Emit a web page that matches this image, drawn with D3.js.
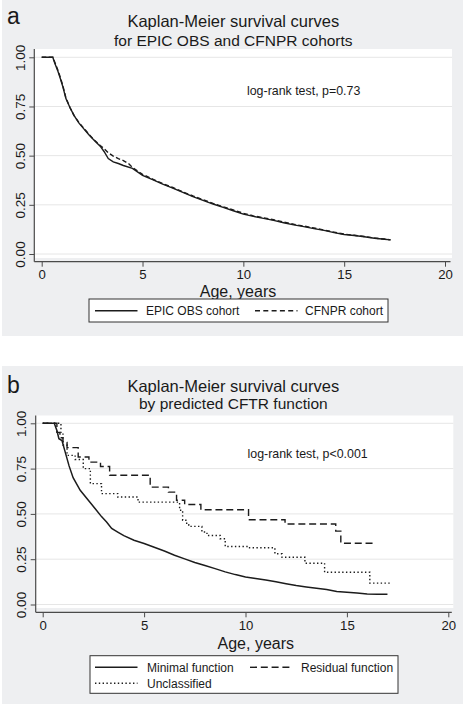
<!DOCTYPE html>
<html><head><meta charset="utf-8">
<script src="https://cdn.jsdelivr.net/npm/d3@7"></script>
<style>
html,body{margin:0;padding:0;background:#fff}
svg{display:block}
text{font-family:"Liberation Sans",Arial,Helvetica,sans-serif;fill:#1a1a1a}
</style>
</head><body>
<svg id="c" width="465" height="704"></svg>
<script>
// ---------- data ----------
const xTicks = [0, 5, 10, 15, 20];
const yTicks = [0, 0.25, 0.5, 0.75, 1];

// Panel a: [age (years), survival]
const epicObs = [[0,1],[0.55,1],[0.65,0.97],[0.8,0.93],[0.9,0.9],[1.05,0.85],[1.2,0.79],[1.4,0.745],[1.6,0.705],[1.85,0.665],[2.1,0.635],[2.35,0.605],[2.6,0.578],[2.9,0.548],[3.1,0.52],[3.3,0.485],[3.55,0.468],[3.8,0.46],[4.05,0.45],[4.5,0.435],[5.0,0.4],[5.5,0.378],[6.0,0.355],[6.5,0.335],[7.0,0.313],[7.5,0.292],[8.0,0.273],[8.5,0.254],[9.0,0.237],[9.5,0.22],[10.0,0.203],[10.5,0.191],[11.0,0.181],[11.5,0.171],[12.0,0.159],[12.5,0.148],[13.0,0.139],[13.5,0.129],[14.0,0.12],[14.5,0.109],[15.0,0.099],[15.5,0.094],[16.0,0.088],[16.5,0.08],[17.0,0.075],[17.3,0.072]];
const cfnprCohort = [[0,1],[0.55,1],[0.65,0.975],[0.8,0.935],[0.9,0.905],[1.05,0.855],[1.2,0.795],[1.4,0.745],[1.6,0.705],[1.85,0.668],[2.1,0.638],[2.35,0.608],[2.6,0.58],[2.9,0.552],[3.1,0.535],[3.3,0.515],[3.55,0.498],[3.8,0.485],[4.05,0.475],[4.3,0.46],[4.5,0.44],[5.0,0.405],[5.5,0.381],[6.0,0.358],[6.5,0.338],[7.0,0.316],[7.5,0.295],[8.0,0.276],[8.5,0.257],[9.0,0.24],[9.5,0.224],[10.0,0.207],[10.5,0.194],[11.0,0.184],[11.5,0.174],[12.0,0.162],[12.5,0.151],[13.0,0.142],[13.5,0.132],[14.0,0.122],[14.5,0.111],[15.0,0.101],[15.5,0.095],[16.0,0.089],[16.5,0.081],[17.0,0.076],[17.3,0.072]];

// Panel b
const minimalFn = [[0,1],[0.57,1],[0.7,0.96],[0.8,0.915],[0.95,0.905],[1.1,0.845],[1.3,0.765],[1.5,0.7],[1.85,0.63],[2.25,0.575],[2.65,0.52],[2.9,0.485],[3.15,0.455],[3.4,0.42],[3.7,0.4],[4.0,0.38],[4.5,0.355],[5.0,0.337],[5.5,0.316],[6.0,0.295],[6.5,0.272],[7.0,0.252],[7.5,0.232],[8.0,0.215],[8.5,0.198],[9.0,0.18],[9.5,0.165],[10.0,0.152],[10.5,0.143],[11.0,0.135],[11.5,0.125],[12.0,0.115],[12.5,0.105],[13.0,0.097],[13.5,0.09],[14.0,0.083],[14.5,0.072],[15.0,0.067],[15.5,0.063],[16.0,0.058],[16.5,0.056],[17.0,0.056]];
const residualFn = [[0,1],[0.6,1],[0.7,0.95],[0.85,0.92],[1.0,0.895],[1.2,0.866],[1.75,0.814],[2.28,0.786],[2.85,0.762],[3.3,0.713],[5.3,0.648],[6.2,0.62],[6.6,0.575],[7.0,0.552],[7.8,0.523],[10.15,0.468],[11.95,0.444],[14.45,0.405],[14.7,0.338],[16.4,0.338]];
const unclassified = [[0,1],[0.88,1],[0.9,0.95],[1.0,0.88],[1.2,0.823],[1.6,0.8],[2.0,0.75],[2.35,0.667],[2.9,0.612],[3.7,0.593],[4.7,0.565],[6.75,0.52],[6.9,0.465],[7.1,0.44],[7.2,0.431],[7.85,0.4],[8.1,0.381],[8.75,0.363],[9.0,0.32],[10.2,0.313],[11.45,0.28],[11.8,0.261],[12.93,0.228],[13.9,0.178],[16.13,0.118],[17.14,0.118]];

// ---------- drawing ----------
const svg = d3.select("#c");
svg.append("rect").attr("width",465).attr("height",704).attr("fill","#fff");

const INK = "#1c1c1c";
const AX = "#4a4a4a";

function drawPanel(cfg) {
  const g = svg.append("g");
  g.append("rect").attr("x",2).attr("y",cfg.bgY).attr("width",461).attr("height",cfg.bgH).attr("fill","#eeeff1");
  g.append("rect").attr("x",cfg.px0).attr("y",cfg.py0).attr("width",cfg.px1-cfg.px0).attr("height",cfg.py1-cfg.py0).attr("fill","#fff");

  const x = d3.scaleLinear().domain([0,20]).range(cfg.xr);
  const y = d3.scaleLinear().domain([0,1]).range(cfg.yr);

  // gridlines
  g.selectAll(".grid").data(yTicks).join("line")
    .attr("x1",cfg.px0).attr("x2",cfg.px1)
    .attr("y1",d=>y(d)).attr("y2",d=>y(d))
    .attr("stroke","#e6e6e6").attr("stroke-width",1);

  // y axis
  const ya = g.append("g").attr("transform",`translate(${cfg.axX},0)`)
    .call(d3.axisLeft(y).tickValues(yTicks).tickFormat(d3.format(".2f")).tickSize(5).tickSizeOuter(0));
  ya.select(".domain").remove();
  ya.selectAll(".tick line").attr("stroke",AX);
  ya.selectAll(".tick text")
    .attr("x",0).attr("dy",0)
    .attr("transform","translate(-9.5,0) rotate(-90)")
    .attr("text-anchor","middle")
    .style("font-size","13.5px").style("font-family",'"Liberation Sans",Arial,sans-serif').attr("fill","#1a1a1a");
  g.append("line").attr("x1",cfg.axX).attr("x2",cfg.axX).attr("y1",cfg.py0).attr("y2",cfg.axY)
    .attr("stroke",AX).attr("stroke-width",1.2);

  // x axis
  const xa = g.append("g").attr("transform",`translate(0,${cfg.axY})`)
    .call(d3.axisBottom(x).tickValues(xTicks).tickSize(5).tickSizeOuter(0));
  xa.select(".domain").remove();
  xa.selectAll(".tick line").attr("stroke",AX);
  xa.selectAll(".tick text")
    .attr("y",cfg.tickBase - cfg.axY).attr("dy",0)
    .style("font-size","13.2px").style("font-family",'"Liberation Sans",Arial,sans-serif').attr("fill","#1a1a1a");
  g.append("line").attr("x1",cfg.axX).attr("x2",cfg.px1-1.5).attr("y1",cfg.axY).attr("y2",cfg.axY)
    .attr("stroke",AX).attr("stroke-width",1.2);

  // titles
  g.append("text").attr("x",7).attr("y",cfg.letterY).text(cfg.letter).style("font-size","23px");
  g.append("text").attr("x",233.3).attr("y",cfg.t1Y).attr("text-anchor","middle").text("Kaplan-Meier survival curves").style("font-size","16.5px");
  g.append("text").attr("x",233.3).attr("y",cfg.t2Y).attr("text-anchor","middle").text(cfg.subtitle).style("font-size","15.5px");
  g.append("text").attr("x",cfg.xlabX).attr("y",cfg.xlabY).attr("text-anchor","middle").text("Age, years").style("font-size","16px");
  g.append("text").attr("x",x(cfg.noteAt[0])).attr("y",y(cfg.noteAt[1])).text(cfg.note).style("font-size","12.4px");

  // curves
  cfg.series.forEach(s => {
    const line = d3.line().x(d=>x(d[0])).y(d=>y(d[1])).curve(s.step ? d3.curveStepAfter : d3.curveLinear);
    g.append("path").datum(s.data).attr("d",line).attr("fill","none")
      .attr("stroke",INK).attr("stroke-width",s.w||1.4).attr("stroke-dasharray",s.dash||null);
  });

  // legend
  const L = cfg.legend;
  g.append("rect").attr("x",L.x).attr("y",L.y).attr("width",L.w).attr("height",L.h)
    .attr("fill","#fff").attr("stroke","#333").attr("stroke-width",1);
  L.items.forEach(it => {
    g.append("line").attr("x1",it.lx).attr("x2",it.lx+42.5).attr("y1",it.ly).attr("y2",it.ly)
      .attr("stroke",INK).attr("stroke-width",1.4).attr("stroke-dasharray",it.dash||null);
    g.append("text").attr("x",it.tx).attr("y",it.ty).text(it.label).style("font-size","12px");
  });
}

drawPanel({
  bgY:0, bgH:336, px0:35, px1:452, py0:49, py1:258,
  xr:[41.7,445], yr:[254,57.3], axX:34.3, axY:261.7, tickBase:279,
  letter:"a", letterY:23.5, t1Y:27.3, t2Y:45.7,
  subtitle:"for EPIC OBS and CFNPR cohorts",
  xlabX:238, xlabY:296.5,
  note:"log-rank test, p=0.73", noteAt:[10.18,0.807],
  series:[
    {data:epicObs},
    {data:cfnprCohort, dash:"4.5,2.5"}
  ],
  legend:{x:89, y:299, w:299, h:23, items:[
    {lx:95, ly:310.7, tx:146, ty:315, label:"EPIC OBS cohort"},
    {lx:255, ly:310.7, tx:305, ty:315, label:"CFNPR cohort", dash:"5,3.3"}
  ]}
});

drawPanel({
  bgY:366, bgH:338, px0:35.5, px1:453.3, py0:415.5, py1:608,
  xr:[42.7,448.3], yr:[604.5,423.3], axX:35.7, axY:612.3, tickBase:630,
  letter:"b", letterY:393, t1Y:391.7, t2Y:409.3,
  subtitle:"by predicted CFTR function",
  xlabX:255.8, xlabY:648.5,
  note:"log-rank test, p<0.001", noteAt:[10.1,0.81],
  series:[
    {data:minimalFn, w:1.5},
    {data:residualFn, step:true, dash:"7,3.8"},
    {data:unclassified, step:true, dash:"1.4,2.4"}
  ],
  legend:{x:90, y:655.7, w:308, h:37.6, items:[
    {lx:95, ly:667.3, tx:147, ty:671.7, label:"Minimal function"},
    {lx:250, ly:667.3, tx:301, ty:671.7, label:"Residual function", dash:"7,3.8"},
    {lx:95, ly:683.3, tx:147, ty:688.3, label:"Unclassified", dash:"1.4,2.4"}
  ]}
});
</script>
</body></html>
